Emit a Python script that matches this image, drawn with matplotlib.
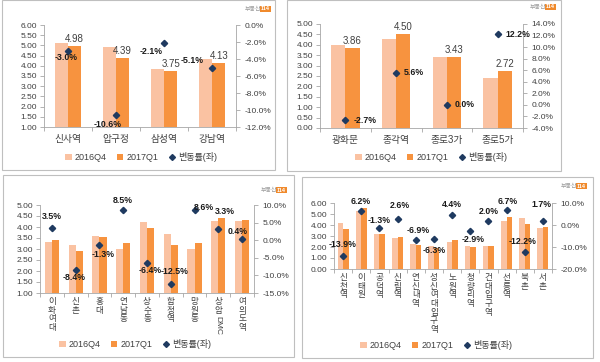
#부동산114 임대료 비교 차트 4개 재현 (2016Q4 vs 2017Q1)

import numpy as np
import matplotlib
matplotlib.use("Agg")
import matplotlib.pyplot as plt
from matplotlib.patches import Patch, Rectangle
from matplotlib.lines import Line2D

plt.rcParams["font.family"] = ["Liberation Sans", "Noto Sans CJK KR", "DejaVu Sans"]

#data
cats1 = ["신사역", "압구정", "삼성역", "강남역"]
q4_1 = [5.13, 4.91, 3.83, 4.35]
q1_1 = [4.98, 4.39, 3.75, 4.13]
chg1 = [-3.0, -10.6, -2.1, -5.1]

cats2 = ["광화문", "종각역", "종로3가", "종로5가"]
q4_2 = [3.97, 4.26, 3.43, 2.42]
q1_2 = [3.86, 4.50, 3.43, 2.72]
chg2 = [-2.7, 5.6, 0.0, 12.2]

cats3 = ["이화여대", "신촌", "홍대", "연남동", "상수동", "합정역", "망원동", "상암 DMC", "여의도역"]
q4_3 = [3.30, 3.17, 3.58, 3.02, 4.22, 3.66, 3.02, 4.28, 4.28]
q1_3 = [3.42, 2.90, 3.53, 3.28, 3.95, 3.20, 3.28, 4.42, 4.30]
chg3 = [3.5, -8.4, -1.3, 8.5, -6.4, -12.5, 8.6, 3.3, 0.4]

cats4 = ["신천역", "이태원", "공덕역", "신림역", "연신내역", "성신여대입구역", "노원역",
         "청량리역", "건대입구역", "선릉역", "북촌", "서촌"]
q4_4 = [4.18, 5.24, 3.18, 2.84, 2.30, 2.05, 2.50, 2.10, 2.08, 4.40, 4.64, 3.76]
q1_4 = [3.60, 5.56, 3.14, 2.91, 2.14, 1.92, 2.61, 2.04, 2.12, 4.69, 4.08, 3.82]
chg4 = [-13.9, 6.2, -1.3, 2.6, -6.9, -6.3, 4.4, -2.9, 2.0, 6.7, -12.2, 1.7]

left_ticks1 = np.arange(1.0, 6.01, 0.5)
right_ticks1 = np.arange(-12.0, 0.01, 2.0)
left_ticks2 = np.arange(0.0, 5.01, 0.5)
right_ticks2 = np.arange(-4.0, 14.01, 2.0)
left_ticks3 = np.arange(1.0, 5.01, 0.5)
right_ticks3 = np.arange(-15.0, 10.01, 5.0)
left_ticks4 = np.arange(0.0, 6.01, 1.0)
right_ticks4 = np.arange(-20.0, 10.01, 10.0)

legend_labels = ["2016Q4", "2017Q1", "변동률(좌)"]

#label placement (pixels, relative to the marker)
offs1 = [(-2, -7), (-8, -9), (-13, -9), (-20, 8)]
offs2 = [(8, 0), (8, 0), (8, 0), (8, 0)]
offs3 = [(0, 11), (-2, -8), (4, -10), (0, 10), (3, -8), (4, 13), (9, 2), (7, 17), (-4, 7)]
offs4 = [(-1, 11), (-1, 10), (0, 7), (2, 14), (2, 10), (0, -12), (0, 11), (3, -8),
         (0, 9), (1, 9), (-2, 10), (-1, 17)]

C_Q4 = "#FAC2A2"
C_Q1 = "#F7933F"
C_MK = "#1F3A60"
C_TXT = "#404040"
C_AX = "#A6A6A6"

W, H = 600, 362
fig = plt.figure(figsize=(W / 100, H / 100), dpi=100)


def box(l, t, r, b):
    return [l / W, 1 - b / H, (r - l) / W, (b - t) / H]


def panel(frame, area, cats, q4, q1, chg, lt, rt, lfmt, offs, ha, bw,
          show_vals, stacked, leg_xy, logo_xy):
    fig.add_artist(Rectangle((frame[0] / W, 1 - frame[3] / H),
                             (frame[2] - frame[0]) / W, (frame[3] - frame[1]) / H,
                             transform=fig.transFigure, fill=False, ec="#BFBFBF", lw=0.8))
    ax = fig.add_axes(box(*area))
    n = len(cats)
    x = np.arange(n)
    ax.bar(x - bw / 2, q4, bw, color=C_Q4, zorder=2)
    ax.bar(x + bw / 2, q1, bw, color=C_Q1, zorder=2)
    ax.set_xlim(-0.5, n - 0.5)
    ax.set_ylim(lt[0], lt[-1])
    ax.set_yticks(lt)
    ax.set_yticklabels([lfmt.format(v) for v in lt])
    ax.tick_params(axis="y", length=3, width=0.6, color=C_AX, labelsize=6,
                   labelcolor=C_TXT, pad=2)
    for s in ["top", "right"]:
        ax.spines[s].set_visible(False)
    for s in ["left", "bottom"]:
        ax.spines[s].set_color(C_AX)
        ax.spines[s].set_linewidth(0.6)
    ax.set_xticks(x)
    ax.set_xticks(np.arange(n + 1) - 0.5, minor=True)
    ax.tick_params(axis="x", which="minor", length=3, width=0.6, color=C_AX)
    ax.tick_params(axis="x", which="major", length=0)
    if stacked:
        ax.set_xticklabels([])
        for i, c in enumerate(cats):
            parts = c.split(" ")
            ax.annotate("\n".join(parts[0]), (i, 0), xycoords=ax.get_xaxis_transform(),
                        xytext=(0, -4), textcoords="offset pixels", ha="center", va="top",
                        fontsize=6.2, color=C_TXT, linespacing=0.95)
            if len(parts) > 1:
                ax.annotate(parts[1], (i, 0), xycoords=ax.get_xaxis_transform(),
                            xytext=(0, -4 - 8.5 * len(parts[0]) - 2), textcoords="offset pixels",
                            ha="center", va="top", rotation=-90, fontsize=6, color=C_TXT)
    else:
        ax.set_xticklabels(cats, fontsize=7, color=C_TXT)
        ax.tick_params(axis="x", which="major", pad=5)

    if show_vals:
        for i, v in enumerate(q1):
            ax.annotate(f"{v:.2f}", (x[i] + bw / 2, v), xytext=(0, 2),
                        textcoords="offset pixels", ha="center", va="bottom",
                        fontsize=7, color=C_TXT)

    ax2 = ax.twinx()
    ax2.set_ylim(rt[0], rt[-1])
    ax2.set_yticks(rt)
    ax2.set_yticklabels([f"{v:.1f}%" for v in rt])
    ax2.tick_params(axis="y", length=3, width=0.6, color=C_AX, labelsize=6,
                    labelcolor=C_TXT, pad=3)
    for s in ["top", "left", "bottom"]:
        ax2.spines[s].set_visible(False)
    ax2.spines["right"].set_color(C_AX)
    ax2.spines["right"].set_linewidth(0.6)
    ax2.plot(x, chg, "D", color=C_MK, ms=3.2, zorder=3)
    for i, c in enumerate(chg):
        ax2.annotate(f"{c:.1f}%", (x[i], c), xytext=offs[i], textcoords="offset pixels",
                     ha=ha, va="center", fontsize=6.3, fontweight="bold", color="#1a1a1a")

    handles = [Patch(facecolor=C_Q4), Patch(facecolor=C_Q1),
               Line2D([], [], marker="D", color=C_MK, ls="none", ms=3)]
    ax.legend(handles, legend_labels, loc="center",
              bbox_to_anchor=(leg_xy[0] / W, 1 - leg_xy[1] / H),
              bbox_transform=fig.transFigure, ncol=3, frameon=False, fontsize=6.5,
              handlelength=0.7, handleheight=0.7, handletextpad=0.3, columnspacing=1.2,
              borderpad=0, labelcolor=C_TXT)

    #부동산114 logo
    fig.text(logo_xy[0] / W, 1 - logo_xy[1] / H, "114", fontsize=4, color="white",
             fontweight="bold", ha="right", va="center",
             bbox=dict(boxstyle="square,pad=0.15", fc="#F08A2C", ec="none"))
    fig.text((logo_xy[0] - 9) / W, 1 - logo_xy[1] / H, "부동산", fontsize=4.3,
             color="#9A9A9A", ha="right", va="center")


panel((2, 0, 275, 170), (44, 25, 236, 127), cats1, q4_1, q1_1, chg1,
      left_ticks1, right_ticks1, "{:.2f}", offs1, "center", 0.28, True, False,
      (141, 157), (270, 9))
panel((287, 0, 561, 171), (320, 24, 523, 128), cats2, q4_2, q1_2, chg2,
      left_ticks2, right_ticks2, "{:.2f}", offs2, "left", 0.28, True, False,
      (431, 157), (555, 7))
panel((3, 175, 294, 357), (40, 205, 254, 293), cats3, q4_3, q1_3, chg3,
      left_ticks3, right_ticks3, "{:.2f}", offs3, "center", 0.3, False, True,
      (135, 344), (286, 190))
panel((302, 177, 593, 358), (334, 203, 552, 269), cats4, q4_4, q1_4, chg4,
      left_ticks4, right_ticks4, "{:.2f}", offs4, "center", 0.3, False, True,
      (436, 345), (586, 186))

fig.savefig("out.png", dpi=100)
plt.close(fig)
